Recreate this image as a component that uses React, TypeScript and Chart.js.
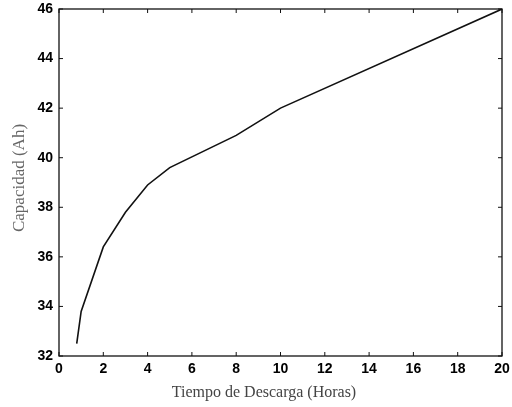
import React, { useEffect, useRef } from "react";
import { Chart, registerables } from "chart.js";

Chart.register(...registerables);

const hours = [0.8, 1, 2, 3, 4, 5, 8, 10, 20];
const capacity = [32.5, 33.8, 36.4, 37.8, 38.9, 39.6, 40.9, 42.0, 46.0];
const xTitle = "Tiempo de Descarga (Horas)";
const yTitle = "Capacidad (Ah)";

const boxPlugin = {
  id: "boxTicks",
  afterDraw(chart: any) {
    const { ctx, chartArea: a, scales } = chart;
    const xs = scales.x;
    const ys = scales.y;
    ctx.save();
    ctx.strokeStyle = "#111";
    ctx.lineWidth = 1.3;
    ctx.strokeRect(a.left, a.top, a.right - a.left, a.bottom - a.top);
    ctx.lineWidth = 1;
    const len = 4;
    ctx.beginPath();
    xs.ticks.forEach((t: any) => {
      const px = xs.getPixelForValue(t.value);
      ctx.moveTo(px, a.bottom);
      ctx.lineTo(px, a.bottom - len);
      ctx.moveTo(px, a.top);
      ctx.lineTo(px, a.top + len);
    });
    ys.ticks.forEach((t: any) => {
      const py = ys.getPixelForValue(t.value);
      ctx.moveTo(a.left, py);
      ctx.lineTo(a.left + len, py);
      ctx.moveTo(a.right, py);
      ctx.lineTo(a.right - len, py);
    });
    ctx.stroke();

    ctx.fillStyle = "#444";
    ctx.font = '16px "Liberation Serif", "DejaVu Serif", serif';
    ctx.textAlign = "center";
    ctx.textBaseline = "middle";
    ctx.fillText(xTitle, 264, 393);
    ctx.translate(20, 178);
    ctx.rotate(-Math.PI / 2);
    ctx.fillStyle = "#666";
    ctx.font = '17px "Liberation Serif", "DejaVu Serif", serif';
    ctx.fillText(yTitle, 0, 0);
    ctx.restore();
  },
};

export default function App() {
  const ref = useRef<HTMLCanvasElement | null>(null);
  useEffect(() => {
    if (!ref.current) return;
    const chart = new Chart(ref.current, {
      type: "line",
      data: {
        datasets: [
          {
            data: hours.map((h, i) => ({ x: h, y: capacity[i] })),
            borderColor: "#111",
            borderWidth: 1.6,
            pointRadius: 0,
            tension: 0,
            fill: false,
          },
        ],
      },
      options: {
        responsive: false,
        animation: false,
        layout: { padding: { top: 9, right: 10, left: 0, bottom: 0 } },
        plugins: { legend: { display: false }, tooltip: { enabled: false } },
        scales: {
          x: {
            type: "linear",
            min: 0,
            max: 20,
            grid: { display: false, drawTicks: false },
            border: { display: false },
            ticks: {
              stepSize: 2,
              padding: 5,
              color: "#000",
              font: { family: '"Liberation Sans", Arial, sans-serif', size: 14, weight: "bold" },
            },
            afterFit(scale: any) {
              scale.height = 51;
              scale.paddingLeft = 0;
              scale.paddingRight = 0;
            },
          },
          y: {
            type: "linear",
            min: 32,
            max: 46,
            grid: { display: false, drawTicks: false },
            border: { display: false },
            ticks: {
              stepSize: 2,
              padding: 6,
              color: "#000",
              font: { family: '"Liberation Sans", Arial, sans-serif', size: 14, weight: "bold" },
            },
            afterFit(scale: any) {
              scale.width = 59;
              scale.paddingTop = 0;
              scale.paddingBottom = 0;
            },
          },
        },
      },
      plugins: [boxPlugin],
    });
    return () => chart.destroy();
  }, []);
  return (
    <div style={{ position: "fixed", left: 0, top: 0, width: 512, height: 407, background: "#fff" }}>
      <canvas ref={ref} width={512} height={407} />
    </div>
  );
}
